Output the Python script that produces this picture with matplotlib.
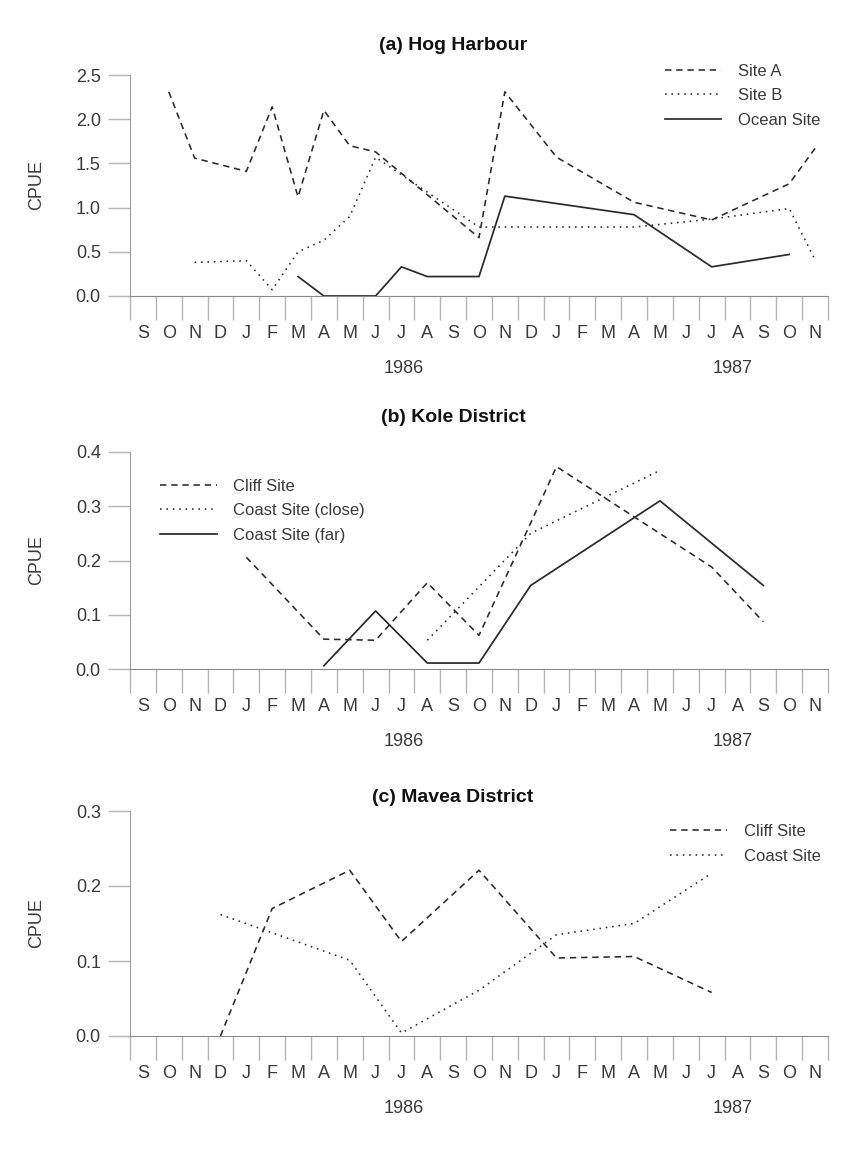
import matplotlib
matplotlib.use("Agg")
import matplotlib.pyplot as plt
import numpy as np

plt.rcParams['font.family'] = ['Liberation Sans', 'DejaVu Sans']

# month labels, Sep 1985 .. Nov 1987 (index 0 = Sep 1985)
months = ['S', 'O', 'N', 'D', 'J', 'F', 'M', 'A', 'M', 'J', 'J', 'A', 'S', 'O',
          'N', 'D', 'J', 'F', 'M', 'A', 'M', 'J', 'J', 'A', 'S', 'O', 'N']
years = ['1986', '1987']
year_pos = [10.6, 23.3]

# (a) Hog Harbour
hog_a_x = [1, 2, 4, 5, 6, 7, 8, 9, 13, 14, 16, 19, 22, 25, 26]
hog_a_y = [2.31, 1.56, 1.41, 2.14, 1.12, 2.10, 1.70, 1.63, 0.66, 2.31, 1.57, 1.06, 0.86, 1.27, 1.67]
hog_b_x = [2, 4, 5, 6, 7, 8, 9, 13, 19, 22, 25, 26]
hog_b_y = [0.38, 0.40, 0.07, 0.50, 0.63, 0.90, 1.57, 0.78, 0.78, 0.87, 0.99, 0.41]
hog_ocean_x = [6, 7, 9, 10, 11, 13, 14, 19, 22, 25]
hog_ocean_y = [0.22, 0.0, 0.0, 0.33, 0.22, 0.22, 1.13, 0.92, 0.33, 0.47]

# (b) Kole District
kole_cliff_x = [4, 7, 9, 11, 13, 16, 22, 24]
kole_cliff_y = [0.206, 0.055, 0.053, 0.159, 0.062, 0.373, 0.188, 0.087]
kole_close_x = [11, 15, 20]
kole_close_y = [0.053, 0.25, 0.366]
kole_far_x = [7, 9, 11, 13, 15, 20, 24]
kole_far_y = [0.006, 0.107, 0.011, 0.011, 0.154, 0.31, 0.154]

# (c) Mavea District
mavea_cliff_x = [3, 5, 8, 10, 13, 16, 19, 22]
mavea_cliff_y = [0.0, 0.17, 0.221, 0.126, 0.221, 0.104, 0.106, 0.058]
mavea_coast_x = [3, 8, 10, 13, 16, 19, 22]
mavea_coast_y = [0.162, 0.101, 0.004, 0.061, 0.135, 0.150, 0.217]

W, H = 842, 1152
fig = plt.figure(figsize=(W / 100, H / 100), dpi=100)

TXT = '#3a3a3a'
LINE = '#2a2a2a'
DASH = dict(color=LINE, lw=1.15, dashes=(4, 3))
DOT = dict(color=LINE, lw=1.15, dashes=(1, 3))
SOLID = dict(color=LINE, lw=1.25)


def make_axes(top, bottom, ymax, title, title_y):
    left, right = 130, 828
    ax = fig.add_axes([left / W, 1 - bottom / H, (right - left) / W, (bottom - top) / H])
    ax.set_xlim(0, 27)
    ax.set_ylim(0, ymax)
    for s in ['top', 'right']:
        ax.spines[s].set_visible(False)
    ax.spines['left'].set_color('#9a9a9a')
    ax.spines['bottom'].set_color('#8a8a8a')
    ax.set_xticks(np.arange(27) + 0.5)
    ax.set_xticklabels(months)
    ax.set_xticks(np.arange(28), minor=True)
    ax.tick_params(axis='x', which='major', length=0, pad=21, labelsize=13, labelcolor=TXT)
    ax.tick_params(axis='x', which='minor', length=17, width=1, color='#b5b5b5', direction='out')
    ax.set_yticks(np.arange(0, ymax + 1e-9, 0.5 if ymax > 1 else 0.1))
    ax.yaxis.set_major_formatter(plt.FormatStrFormatter('%.1f'))
    ax.tick_params(axis='y', length=16, width=1, color='#b5b5b5', pad=5, labelsize=13, labelcolor=TXT)
    ax.set_ylabel('CPUE', fontsize=13, color=TXT)
    ax.yaxis.set_label_coords(-0.121, 0.5)
    for yr, xp in zip(years, year_pos):
        ax.annotate(yr, xy=(xp, 0), xycoords=('data', 'axes fraction'),
                    xytext=(0, -52), textcoords='offset points',
                    ha='center', va='center', fontsize=13, color=TXT)
    fig.text(453 / W, 1 - title_y / H, title, ha='center', va='center',
             fontsize=14, fontweight='bold', color='#111111')
    return ax


def month_x(idx):
    return np.array(idx) + 0.5


leg_kw = dict(frameon=False, fontsize=12, handlelength=3.4, handletextpad=1.0,
              labelspacing=0.57, borderpad=0, borderaxespad=0, labelcolor=TXT)

# panel a
ax = make_axes(75, 296, 2.5, '(a) Hog Harbour', 45)
ax.plot(month_x(hog_a_x), hog_a_y, label='Site A', **DASH)
ax.plot(month_x(hog_b_x), hog_b_y, label='Site B', **DOT)
ax.plot(month_x(hog_ocean_x), hog_ocean_y, label='Ocean Site', **SOLID)
ax.legend(loc='upper left', bbox_to_anchor=(0.766, 1.052), **leg_kw)

# panel b
ax = make_axes(452, 669, 0.4, '(b) Kole District', 417)
ax.plot(month_x(kole_cliff_x), kole_cliff_y, label='Cliff Site', **DASH)
ax.plot(month_x(kole_close_x), kole_close_y, label='Coast Site (close)', **DOT)
ax.plot(month_x(kole_far_x), kole_far_y, label='Coast Site (far)', **SOLID)
ax.legend(loc='upper left', bbox_to_anchor=(0.043, 0.877), **leg_kw)

# panel c
ax = make_axes(811, 1036, 0.3, '(c) Mavea District', 798)
ax.plot(month_x(mavea_cliff_x), mavea_cliff_y, label='Cliff Site', **DASH)
ax.plot(month_x(mavea_coast_x), mavea_coast_y, label='Coast Site', **DOT)
ax.legend(loc='upper left', bbox_to_anchor=(0.774, 0.942), **leg_kw)

fig.savefig('out.png', dpi=100)
